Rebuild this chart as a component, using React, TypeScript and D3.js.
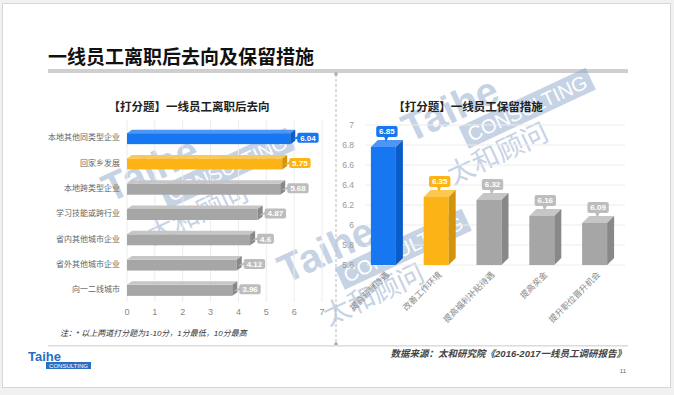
import * as d3 from "d3";
import React from "react";

const leftCats = ["本地其他同类型企业", "回家乡发展", "本地跨类型企业", "学习技能或跨行业", "省内其他城市企业", "省外其他城市企业", "向一二线城市"];
const leftVals = [6.04, 5.75, 5.68, 4.87, 4.6, 4.12, 3.96];
const leftTicks = [0, 1, 2, 3, 4, 5, 6, 7];

const rightCats = ["提高薪酬待遇", "改善工作环境", "提高福利补贴待遇", "提高奖金", "提升职位晋升机会"];
const rightVals = [6.85, 6.35, 6.32, 6.16, 6.09];

const FONT = "'Liberation Sans', 'Noto Sans CJK SC', sans-serif";

// front / top / side colours: first blue, second orange, rest gray
const palette = [
  { front: "#1677f0", top: "#4d95f6", side: "#0b5cc9", tag: "#1677f0" },
  { front: "#fbb316", top: "#fdc850", side: "#d3940c", tag: "#fbb316" },
  { front: "#a6a6a6", top: "#c6c6c6", side: "#888888", tag: "#bdbdbd" }
];
const col = (i: number) => palette[Math.min(i, 2)];

function Watermark({ x, y }: { x: number; y: number }) {
  const c = "#8ea8cc";
  return (
    <g transform={`translate(${x},${y}) rotate(-25)`} opacity={0.5}>
      <text x={0} y={0} fontSize={40} fontWeight="bold" fill={c} fontFamily={FONT}>Taihe</text>
      <rect x={51} y={6} width={140} height={24} fill={c} />
      <text x={121} y={25} textAnchor="middle" fontSize={20} fill="#fff" fontFamily={FONT}>CONSULTING</text>
      <text x={75} y={56} textAnchor="middle" fontSize={27} fill={c} fontFamily={FONT}>太和顾问</text>
    </g>
  );
}

function LeftChart() {
  const x = d3.scaleLinear().domain([0, 7]).range([127, 322]);
  const y = d3.scaleBand().domain(leftCats).range([125, 302]);
  const h = 11, dx = 5, dy = 3.5;
  return (
    <g fontFamily={FONT}>
      <text x={189} y={111} textAnchor="middle" fontSize={11.5} fontWeight="bold" fill="#222">【打分题】一线员工离职后去向</text>
      {leftTicks.map((t) => (
        <g key={t}>
          <line x1={x(t)} x2={x(t)} y1={120} y2={302} stroke="#ececec" />
          <text x={x(t)} y={315} textAnchor="middle" fontSize={9} fill="#888">{t}</text>
        </g>
      ))}
      {leftCats.map((c, i) => {
        const v = leftVals[i];
        const cy = (y(c) as number) + y.step() / 2;
        const x0 = x(0), xe = x(v);
        const top = cy - h / 2 + 1, bot = cy + h / 2 + 1;
        const k = col(i);
        const label = String(v);
        const bw = label.length * 4.6 + 3;
        const bx = xe + 2;
        return (
          <g key={c}>
            <text x={120} y={cy} dy="0.35em" textAnchor="end" fontSize={8} fill="#666">{c}</text>
            <rect x={x0} y={top} width={xe - dx - x0} height={h} fill={k.front} />
            <polygon points={`${x0},${top} ${x0 + dx},${top - dy} ${xe},${top - dy} ${xe - dx},${top}`} fill={k.top} />
            <polygon points={`${xe - dx},${top} ${xe},${top - dy} ${xe},${bot - dy} ${xe - dx},${bot}`} fill={k.side} />
            <polygon points={`${bx + 1},${cy - 2} ${bx + 1},${cy + 1} ${bx - 6},${cy + 2}`} fill={k.tag} />
            <rect x={bx} y={cy - 5} width={bw} height={10} rx={2} fill={k.tag} />
            <text x={bx + bw / 2} y={cy} dy="0.36em" textAnchor="middle" fontSize={8} fontWeight="bold" fill="#fff">{label}</text>
          </g>
        );
      })}
      <text x={60} y={336} fontSize={8} fontStyle="italic" fill="#333">注：* 以上两道打分题为1-10分，1分最低，10分最高</text>
    </g>
  );
}

function RightChart() {
  const x = d3.scaleBand().domain(rightCats).range([357, 621]);
  const y = d3.scaleLinear().domain([5.6, 7]).range([265, 125]);
  const ticks = y.ticks(7);
  const fmt = d3.format("~g");
  const w = 25, dx = 7, dy = 7;
  const base = y(5.6);
  return (
    <g fontFamily={FONT}>
      <text x={468} y={111} textAnchor="middle" fontSize={11.5} fontWeight="bold" fill="#222">【打分题】一线员工保留措施</text>
      {ticks.map((t) => (
        <g key={t}>
          <line x1={366} x2={625} y1={y(t)} y2={y(t)} stroke="#ececec" />
          <text x={354} y={y(t)} dy="0.35em" textAnchor="end" fontSize={8.5} fill="#999">{fmt(t)}</text>
        </g>
      ))}
      {rightCats.map((c, i) => {
        const v = rightVals[i];
        const cx = (x(c) as number) + x.step() / 2;
        const fl = cx - w / 2, fr = cx + w / 2;
        const yb = y(v), yf = yb + dy;
        const k = col(i);
        const label = String(v);
        const bw = label.length * 4.6 + 3;
        const tx = cx + dx / 2;
        const boxBot = yb - 3;
        return (
          <g key={c}>
            <rect x={fl} y={yf} width={w} height={base - yf} fill={k.front} />
            <polygon points={`${fl},${yf} ${fl + dx},${yb} ${fr + dx},${yb} ${fr},${yf}`} fill={k.top} />
            <polygon points={`${fr},${yf} ${fr + dx},${yb} ${fr + dx},${base - dy} ${fr},${base}`} fill={k.side} />
            <polygon points={`${tx - 3},${boxBot - 1} ${tx + 2},${boxBot - 1} ${tx - 1},${boxBot + 5}`} fill={k.tag} />
            <rect x={tx - bw / 2} y={boxBot - 11} width={bw} height={11} rx={2} fill={k.tag} />
            <text x={tx} y={boxBot - 5.5} dy="0.36em" textAnchor="middle" fontSize={8} fontWeight="bold" fill="#fff">{label}</text>
            <text transform={`translate(${cx + 4},${base + 8}) rotate(-45)`} textAnchor="end" dy="0.35em" fontSize={8.5} fill="#888">{c}</text>
          </g>
        );
      })}
    </g>
  );
}

export default function App() {
  return (
    <svg width={674} height={395} style={{ position: "absolute", left: 0, top: 0 }}>
      <rect width={674} height={395} fill="#f1f1f1" />
      <rect x={2.5} y={3.5} width={668} height={384} fill="#fff" stroke="#d6d6d6" />
      <text x={48} y={64} fontSize={19} fontWeight="bold" fill="#111" fontFamily={FONT}>一线员工离职后去向及保留措施</text>
      <rect x={48} y={69} width={580} height={4} fill="#cfcfcf" />
      <Watermark x={110} y={203} />
      <Watermark x={410} y={143} />
      <Watermark x={286} y={284} />
      <line x1={336} x2={336} y1={74} y2={344} stroke="#bbb" strokeDasharray="3,2" />
      <circle cx={336} cy={74} r={1.8} fill="#aaa" />
      <circle cx={336} cy={344} r={1.8} fill="#aaa" />
      <LeftChart />
      <RightChart />
      <rect x={48} y={345} width={580} height={1.5} fill="#dcdcdc" />
      <g fontFamily={FONT}>
        <text x={28} y={361} fontSize={13} fontWeight="bold" fill="#2a6ebf">Taihe</text>
        <rect x={46} y={362} width={45} height={7} fill="#2a6ebf" />
        <text x={68.5} y={367.8} textAnchor="middle" fontSize={6} fill="#fff">CONSULTING</text>
        <text x={626} y={357} textAnchor="end" fontSize={9.5} fontStyle="italic" fontWeight="bold" fill="#444">数据来源：太和研究院《2016-2017一线员工调研报告》</text>
        <text x={626} y={373} textAnchor="end" fontSize={6} fill="#666">11</text>
      </g>
    </svg>
  );
}
